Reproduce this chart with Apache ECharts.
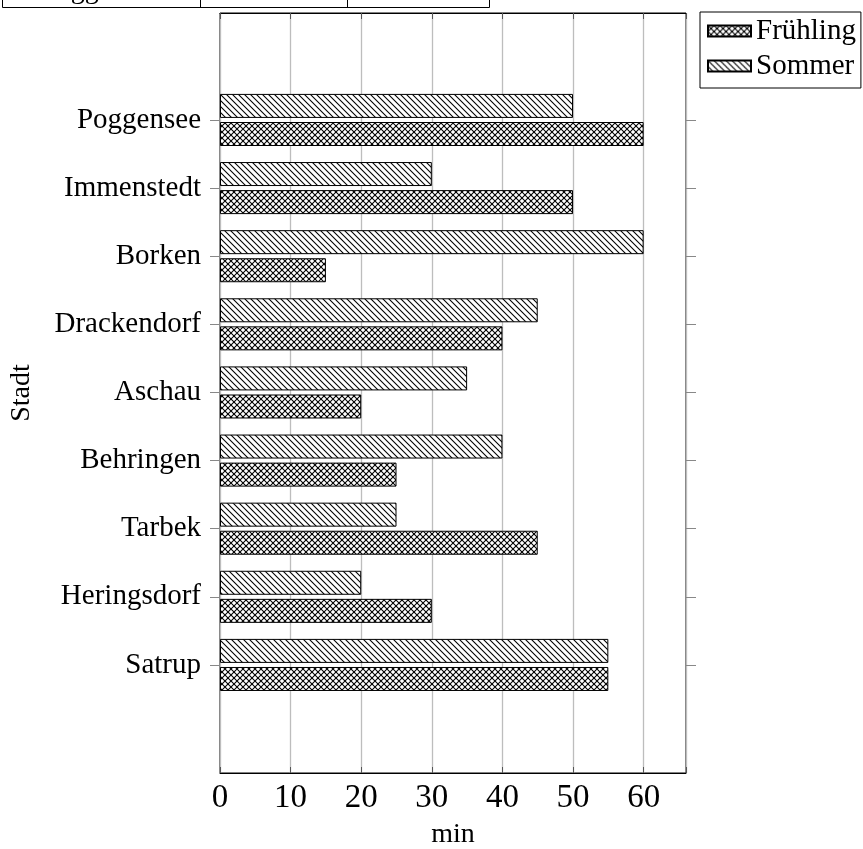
<!DOCTYPE html>
<html>
<head>
<meta charset="utf-8">
<script src="https://cdn.jsdelivr.net/npm/echarts@6/dist/echarts.min.js"></script>
<style>
html,body{margin:0;padding:0;background:#fff;overflow:hidden;}
#chart{width:863px;height:849px;}
</style>
</head>
<body>
<div id="chart"></div>
<script>
// ---- data ----
var categories = ['Poggensee','Immenstedt','Borken','Drackendorf','Aschau','Behringen','Tarbek','Heringsdorf','Satrup'];
var fruehling = [60, 50, 15, 40, 20, 25, 45, 30, 55];
var sommer    = [50, 30, 60, 45, 35, 40, 25, 20, 55];
var seriesNames = ['Frühling', 'Sommer'];
var xTicks = [0, 10, 20, 30, 40, 50, 60];

var FONT = '"Liberation Serif", "DejaVu Serif", serif';

function makeTile(type) {
  var s = 6;
  var c = document.createElement('canvas');
  c.width = s; c.height = s;
  var ctx = c.getContext('2d');
  ctx.fillStyle = '#fff';
  ctx.fillRect(0, 0, s, s);
  ctx.strokeStyle = '#000';
  ctx.lineWidth = 1.1;
  function line(x1, y1, x2, y2) { ctx.beginPath(); ctx.moveTo(x1, y1); ctx.lineTo(x2, y2); ctx.stroke(); }
  for (var k = -1; k <= 1; k++) line(k * s - 1, -1, k * s + s + 1, s + 1);
  if (type === 'cross') {
    for (var k2 = -1; k2 <= 1; k2++) line(k2 * s - 1, s + 1, k2 * s + s + 1, -1);
  }
  return c;
}

var crossPattern = { image: makeTile('cross'), repeat: 'repeat' };
var nwPattern = { image: makeTile('nw'), repeat: 'repeat' };

var chart = echarts.init(document.getElementById('chart'), null, { renderer: 'canvas', width: 863, height: 849 });

var option = {
  animation: false,
  backgroundColor: '#fff',
  textStyle: { fontFamily: FONT },
  grid: [
    { left: 220, width: 466, top: 13, height: 760, show: true, borderColor: '#000', borderWidth: 1, backgroundColor: 'transparent', containLabel: false, outerBoundsMode: 'none' },
    { left: 220, width: 466, top: 85.9, height: 613.1, containLabel: false, outerBoundsMode: 'none' }
  ],
  legend: {
    orient: 'vertical',
    left: 700, top: 12,
    data: seriesNames,
    borderColor: '#000', borderWidth: 1,
    padding: [3, 5, 6, 7],
    itemWidth: 43, itemHeight: 11, itemGap: 3,
    icon: 'rect',
    textStyle: { fontFamily: FONT, fontSize: 29, color: '#000', lineHeight: 32 }
  },
  xAxis: [
    {
      gridIndex: 0, type: 'value', position: 'bottom', min: 0, max: 66, interval: 10,
      name: 'min', nameLocation: 'middle', nameGap: 48,
      nameTextStyle: { fontFamily: FONT, fontSize: 28, color: '#000' },
      axisLine: { show: true, lineStyle: { color: '#000', width: 1 } },
      axisTick: { show: true, inside: true, length: 6, lineStyle: { color: '#555' } },
      axisLabel: { fontFamily: FONT, fontSize: 33, color: '#000', margin: 9,
        formatter: function (v) { return xTicks.indexOf(v) >= 0 ? String(v) : ''; } },
      splitLine: { show: true, lineStyle: { color: '#bdbdbd', width: 1.3 } }
    },
    {
      gridIndex: 0, type: 'value', position: 'top', min: 0, max: 66, interval: 10,
      axisLine: { show: true, lineStyle: { color: '#000', width: 1 } },
      axisTick: { show: true, inside: true, length: 6, lineStyle: { color: '#555' } },
      axisLabel: { show: false },
      splitLine: { show: false }
    },
    {
      gridIndex: 1, type: 'value', min: 0, max: 66, show: false,
      splitLine: { show: false }
    }
  ],
  yAxis: [
    {
      gridIndex: 0, type: 'value', min: 0, max: 1,
      name: 'Stadt', nameLocation: 'middle', nameGap: 184, nameRotate: 90,
      nameTextStyle: { fontFamily: FONT, fontSize: 28, color: '#000' },
      axisLine: { show: false }, axisTick: { show: false }, axisLabel: { show: false },
      splitLine: { show: false }
    },
    {
      gridIndex: 1, type: 'category', data: categories, inverse: true, position: 'left',
      axisLine: { show: false },
      axisTick: { show: true, alignWithLabel: true, length: 10, lineStyle: { color: '#888' } },
      axisLabel: { fontFamily: FONT, fontSize: 29, color: '#000', margin: 19 },
      splitLine: { show: false }
    },
    {
      gridIndex: 1, type: 'category', data: categories, inverse: true, position: 'right',
      axisLine: { show: false },
      axisTick: { show: true, alignWithLabel: true, length: 10, lineStyle: { color: '#888' } },
      axisLabel: { show: false },
      splitLine: { show: false }
    }
  ],
  series: [
    {
      name: seriesNames[1], type: 'bar', xAxisIndex: 2, yAxisIndex: 1,
      data: sommer, barWidth: 24, barGap: '17%',
      itemStyle: { color: nwPattern, borderColor: '#000', borderWidth: 1 }
    },
    {
      name: seriesNames[0], type: 'bar', xAxisIndex: 2, yAxisIndex: 1,
      data: fruehling, barWidth: 24, barGap: '17%',
      itemStyle: { color: crossPattern, borderColor: '#000', borderWidth: 1 }
    }
  ],
  graphic: [
    { type: 'rect', shape: { x: 2.5, y: -30, width: 487, height: 37.5 }, style: { fill: 'none', stroke: '#000', lineWidth: 1 } },
    { type: 'line', shape: { x1: 200.5, y1: -30, x2: 200.5, y2: 7.5 }, style: { stroke: '#000', lineWidth: 1 } },
    { type: 'line', shape: { x1: 347.5, y1: -30, x2: 347.5, y2: 7.5 }, style: { stroke: '#000', lineWidth: 1 } },
    { type: 'text', x: 101, y: -9, style: { text: 'Poggensee', font: '28px ' + FONT, fill: '#000', textAlign: 'center', textVerticalAlign: 'middle' } }
  ]
};

chart.setOption(option);
</script>
</body>
</html>
